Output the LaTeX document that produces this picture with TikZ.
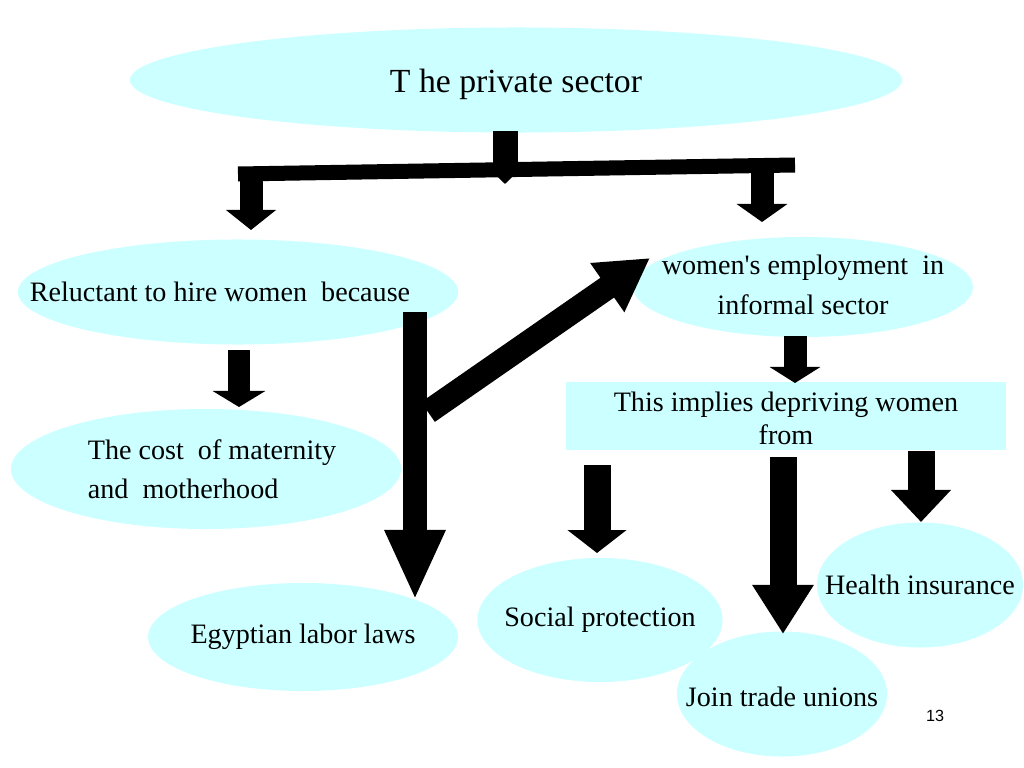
\documentclass[tikz,border=0pt]{standalone}
\usepackage{fontspec}
\setmainfont{Liberation Serif}[Ligatures=TeXOff]
\newfontfamily\pagefont{Liberation Sans}
\usepackage{xcolor}
\usetikzlibrary{shapes.geometric, arrows.meta, positioning}
\definecolor{bubblecyan}{HTML}{CCFFFF}

\begin{document}
\begin{tikzpicture}[
    x=0.025cm, y=-0.025cm,
    bubble/.style={ellipse,fill=bubblecyan,inner sep=0pt},
    panel/.style={rectangle,fill=bubblecyan,inner sep=0pt},
    txt/.style={inner sep=0pt,align=center,font=\fontsize{20}{28}\selectfont},
    fat/.style args={#1/#2/#3}{line width=#1cm,-{Triangle[width=#2cm,length=#3cm]}},
    bar/.style={line width=0.375cm}
]
\useasboundingbox (0,0) rectangle (1024,768);

%--------------------------------------------------------------------
% Top: the private sector
%--------------------------------------------------------------------
\node[bubble,minimum width=19.3cm,minimum height=2.625cm] (private) at (516,80) {};
\node[txt,font=\fontsize{24}{28}\selectfont] (privateText) at ([yshift=-0.1cm]private.center)
      {T he private sector};

%--------------------------------------------------------------------
% Left branch
%--------------------------------------------------------------------
\node[bubble,minimum width=11cm,minimum height=2.625cm] (reluctant) at (238,292) {};
\node[txt] (reluctantText) at ([xshift=-0.45cm]reluctant.center)
      {Reluctant to hire women\ \ because};

\node[bubble,minimum width=9.75cm,minimum height=3cm] (cost) at (206,469) {};
\node[txt,align=left] (costText) at ([xshift=0.15cm]cost.center)
      {The cost\ \ of maternity\\and\ \ motherhood};

\node[bubble,minimum width=7.75cm,minimum height=2.7cm] (labor) at (303,637) {};
\node[txt] (laborText) at (labor.center) {Egyptian labor laws};

%--------------------------------------------------------------------
% Right branch
%--------------------------------------------------------------------
\node[bubble,minimum width=8.5cm,minimum height=2.5cm] (informal) at (803,287) {};
\node[txt] (informalText) at ([yshift=0.05cm]informal.center)
      {women's employment\ \ in\\informal sector};

\node[panel,minimum width=11cm,minimum height=1.7cm] (depriving) at (786,416) {};
\node[txt,font=\fontsize{20}{23.5}\selectfont] (deprivingText) at ([yshift=-0.05cm]depriving.center)
      {This implies depriving women\\from};

\node[bubble,minimum width=6.125cm,minimum height=3.1cm] (social) at (600,620) {};
\node[txt] (socialText) at (social.center) {Social protection};

\node[bubble,minimum width=5.15cm,minimum height=3.125cm] (health) at (920,585) {};
\node[txt] (healthText) at (health.center) {Health insurance};

\node[bubble,minimum width=5.25cm,minimum height=3.125cm] (unions) at (782,694) {};
\node[txt] (unionsText) at ([yshift=-0.06cm]unions.center) {Join trade unions};

\node[font=\pagefont\fontsize{11.5}{13}\selectfont] (pageno) at (935,716) {13};

%--------------------------------------------------------------------
% End points of the block arrows
%--------------------------------------------------------------------
\coordinate (stemTop) at (505,131);
\coordinate (stemEnd) at (505,184);
\coordinate (barL) at (238,174);
\coordinate (barR) at (795,165);
\coordinate (leftFoot) at (251,180);   \coordinate (leftTip) at (251,230);
\coordinate (rightFoot) at (762,171);  \coordinate (rightTip) at (762,222);
\coordinate (costFoot) at (239,350);   \coordinate (costTip) at (239,407);
\coordinate (lawFoot) at (415,312);    \coordinate (lawTip) at (415,600);
\coordinate (diagFoot) at (428,412);   \coordinate (diagTip) at (650,258);
\coordinate (panelFoot) at (795,336);  \coordinate (panelTip) at (795,383);
\coordinate (socFoot) at (597,465);    \coordinate (socTip) at (597,553);
\coordinate (uniFoot) at (783,457);    \coordinate (uniTip) at (783,634);
\coordinate (hltFoot) at (921,451);    \coordinate (hltTip) at (921,522);

%--------------------------------------------------------------------
% Bracket under the top ellipse
%--------------------------------------------------------------------
\draw[fat={0.625/0.6/0.3}] (stemTop) -- (stemEnd);
\draw[bar] (barL) -- (barR);
\draw[fat={0.575/1.225/0.5}] (leftFoot) -- (leftTip);
\draw[fat={0.575/1.25/0.45}] (rightFoot) -- (rightTip);

%--------------------------------------------------------------------
% Arrows of the left branch
%--------------------------------------------------------------------
\draw[fat={0.55/1.3/0.4}] (costFoot) -- (costTip);
\draw[fat={0.6/1.4/1.75}] (lawFoot) -- (lawTip);
\draw[fat={0.6/1.4/1.3}] (diagFoot) -- (diagTip);

%--------------------------------------------------------------------
% Arrows of the right branch
%--------------------------------------------------------------------
\draw[fat={0.575/1.25/0.4}] (panelFoot) -- (panelTip);
\draw[fat={0.675/1.45/0.575}] (socFoot) -- (socTip);
\draw[fat={0.675/1.45/1.225}] (uniFoot) -- (uniTip);
\draw[fat={0.675/1.45/0.8}] (hltFoot) -- (hltTip);

\end{tikzpicture}
\end{document}
